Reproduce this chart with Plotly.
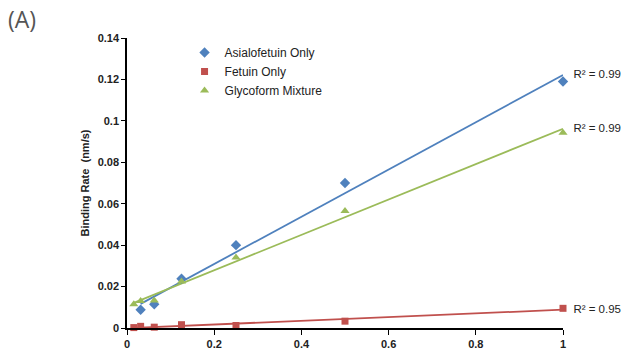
import numpy as np
import plotly.graph_objects as go

conc = [0.015625, 0.03125, 0.0625, 0.125, 0.25, 0.5, 1.0]
asialo_x = [0.03125, 0.0625, 0.125, 0.25, 0.5, 1.0]
asialo_y = [0.0088, 0.0115, 0.0238, 0.0400, 0.0700, 0.1190]
fetuin_y = [0.0002, 0.0008, 0.0004, 0.0016, 0.0012, 0.0033, 0.0095]
glyco_y = [0.0115, 0.0130, 0.0133, 0.0224, 0.0340, 0.0565, 0.0943]
r2_values = ["0.99", "0.95", "0.99"]
yticks = [0, 0.02, 0.04, 0.06, 0.08, 0.1, 0.12, 0.14]
ytick_text = ["0", "0.02", "0.04", "0.06", "0.08", "0.1", "0.12", "0.14"]
xticks = [0, 0.2, 0.4, 0.6, 0.8, 1]
xtick_text = ["0", "0.2", "0.4", "0.6", "0.8", "1"]

BLUE = "#4F81BD"
RED = "#C0504D"
GREEN = "#9BBB59"
FONT = "Liberation Sans Narrow, Liberation Sans, Arial"

series = [
    ("Asialofetuin Only", asialo_x, asialo_y, BLUE, "diamond", 8),
    ("Fetuin Only", conc, fetuin_y, RED, "square", 7),
    ("Glycoform Mixture", conc, glyco_y, GREEN, "triangle-up", 8),
]

fig = go.Figure()
for name, xs, ys, col, sym, sz in series:
    m, b = np.polyfit(xs, ys, 1)
    lx = [min(xs), max(xs)]
    fig.add_trace(go.Scatter(x=lx, y=[m * v + b for v in lx], mode="lines",
                             line=dict(color=col, width=1.8), showlegend=False,
                             hoverinfo="skip", cliponaxis=False))
for name, xs, ys, col, sym, sz in series:
    fig.add_trace(go.Scatter(x=xs, y=ys, mode="markers", name=name,
                             marker=dict(color=col, symbol=sym, size=sz),
                             cliponaxis=False))

# R^2 labels as a text trace at the end of each fit line
lab_x, lab_y, lab_t = [], [], []
for (name, xs, ys, col, sym, sz), r2 in zip(series, r2_values):
    m, b = np.polyfit(xs, ys, 1)
    lab_x.append(max(xs))
    lab_y.append(m * max(xs) + b)
    lab_t.append("R² = " + r2)
fig.add_trace(go.Scatter(x=lab_x, y=lab_y, text=lab_t, mode="markers+text",
                         marker=dict(size=15, color="rgba(0,0,0,0)"),
                         textposition="middle right", showlegend=False,
                         hoverinfo="skip", cliponaxis=False,
                         textfont=dict(family=FONT, size=11.5, color="#222")))

fig.add_annotation(x=-0.278, y=1.126, xref="paper", yref="paper", text="(A)",
                   showarrow=False, xanchor="left", yanchor="top",
                   font=dict(family="Open Sans, Noto Sans, sans-serif", size=23, color="#555"))

fig.update_layout(
    width=625, height=362,
    margin=dict(l=127, r=62, t=38, b=26),
    plot_bgcolor="white", paper_bgcolor="white",
    font=dict(family=FONT, size=11, color="#222"),
    legend=dict(x=0.132, y=1.0, xanchor="left", yanchor="top",
                bgcolor="rgba(0,0,0,0)", font=dict(size=12, color="#222", family=FONT),
                itemwidth=30, tracegroupgap=0),
    xaxis=dict(range=[0, 1], tickvals=xticks, ticktext=xtick_text,
               showgrid=False, zeroline=False, showline=True, linecolor="black",
               linewidth=1.5, ticks="outside", ticklen=5, tickcolor="black",
               tickfont=dict(size=11, color="#222", family=FONT, weight="bold")),
    yaxis=dict(range=[0, 0.14], tickvals=yticks, ticktext=ytick_text,
               showgrid=False, zeroline=False, showline=True, linecolor="black",
               linewidth=1.5, ticks="outside", ticklen=4, tickcolor="black",
               tickfont=dict(size=11, color="#222", family=FONT, weight="bold"),
               title=dict(text="Binding Rate  (nm/s)", standoff=6,
                          font=dict(size=11, color="#222", family=FONT, weight="bold"))),
)

fig.write_html("out.html", config={"displayModeBar": False},
               post_script="document.body.style.margin='0';document.body.style.overflow='hidden';")
